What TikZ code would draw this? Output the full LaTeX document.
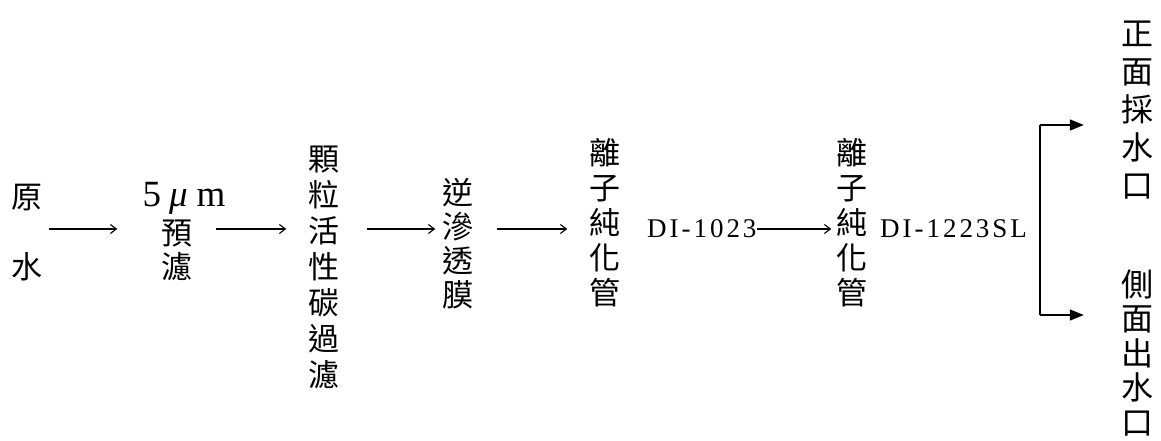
\documentclass[tikz,border=0pt]{standalone}
\usepackage{fontspec}
\setmainfont{Liberation Serif}
\newfontfamily\cjk{Noto Sans CJK TC}
\newfontfamily\lat[LetterSpace=11]{Liberation Serif}
\usetikzlibrary{arrows.meta}
\begin{document}
\begin{tikzpicture}[x=1pt,y=-1pt,
  col/.style={inner sep=0pt, align=center, font=\cjk\fontsize{31}{#1}\selectfont},
  col/.default=36,
  bigcol/.style={inner sep=0pt, align=center, font=\cjk\fontsize{32}{#1}\selectfont},
  latin/.style={inner sep=0pt, anchor=west, font=\lat\fontsize{27}{30}\selectfont},
  arr/.style={line width=1.1pt, -{Straight Barb[length=6pt,width=9pt,line width=1.1pt]}},
  forkline/.style={line width=1.5pt},
  forkarr/.style={line width=1.5pt, -{Triangle[length=14pt,width=11pt]}}]
\useasboundingbox (0,0) rectangle (1161,440);
\coordinate (row) at (0,229);
\node[col=70] (raw) at (27,233) {原\\水};
\node[inner sep=0pt, font=\fontsize{37}{40}\selectfont] (um) at (184,198) {5\hspace{8pt}\textit{μ}\hspace{9pt}m};
\node[col=34] (pre) at (177,250) {預\\濾};
\node[col=36] (gac) at (324,267) {顆\\粒\\活\\性\\碳\\過\\濾};
\node[col=34] (ro) at (458,244) {逆\\滲\\透\\膜};
\node[col=35] (ion1) at (605,223) {離\\子\\純\\化\\管};
\node[latin] (di1) at (647,229) {DI-1023};
\node[col=35] (ion2) at (852,223) {離\\子\\純\\化\\管};
\node[latin] (di2) at (880,229) {DI-1223SL};
\node[bigcol=38] (front) at (1137,110) {正\\面\\採\\水\\口};
\node[bigcol=34.5] (side) at (1137,353) {側\\面\\出\\水\\口};
\draw[arr, shorten <=6pt, shorten >=44pt] (raw.east |- row) -- (pre.west |- row);
\draw[arr, shorten <=23pt, shorten >=22pt] (pre.east |- row) -- (gac.west |- row);
\draw[arr, shorten <=27pt, shorten >=7pt] (gac.east |- row) -- (ro.west |- row);
\draw[arr, shorten <=23pt, shorten >=22pt] (ro.east |- row) -- (ion1.west |- row);
\draw[arr, shorten >=5pt] (di1.east |- row) -- (ion2.west |- row);
\coordinate (ftop) at (1040,125);
\coordinate (fbot) at (1040,315);
\draw[forkline] (ftop) -- (fbot);
\draw[forkarr, shorten >=37pt] (ftop) -- (front.west |- ftop);
\draw[forkarr, shorten >=37pt] (fbot) -- (side.west |- fbot);
\end{tikzpicture}
\end{document}
